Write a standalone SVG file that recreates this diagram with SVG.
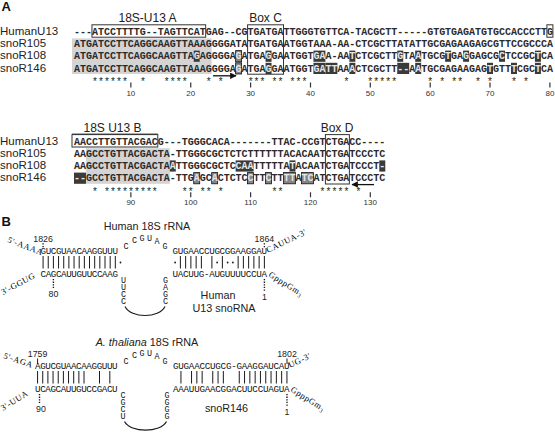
<svg xmlns="http://www.w3.org/2000/svg" width="555" height="433" viewBox="0 0 555 433">
<style>
.pl{font-family:"Liberation Sans",Arial,sans-serif;font-weight:bold;font-size:13px;fill:#111}
.lab{font-family:"Liberation Sans",Arial,sans-serif;font-size:11.5px;fill:#222}
.hd{font-family:"Liberation Sans",Arial,sans-serif;font-size:12px;fill:#222;text-anchor:middle}
.seq{font-family:"Liberation Mono","Courier New",monospace;font-size:10px;font-weight:bold;fill:#2a2a2a}
.w{fill:#e6e6e6}
.star{font-family:"Liberation Sans",Arial,sans-serif;font-size:10px;fill:#222;text-anchor:middle}
.num{font-family:"Liberation Sans",Arial,sans-serif;font-size:8px;fill:#333;text-anchor:middle}
.box{fill:none;stroke:#333;stroke-width:1}
.shade{fill:#d4d4d4}
.dk{fill:#3a3a3a}
.ol{fill:#858585;stroke:#111;stroke-width:0.8}
.tick{stroke:#333;stroke-width:1.2;fill:none}
.rna{font-family:"Liberation Mono","Courier New",monospace;font-size:9.2px;fill:#111}
.rc{font-family:"Liberation Mono","Courier New",monospace;font-size:8.4px;fill:#111;text-anchor:middle}
.rot{font-family:"Liberation Serif","Times New Roman",serif;font-size:8.5px;fill:#000;letter-spacing:0.6px}
.lb{font-family:"Liberation Sans",Arial,sans-serif;font-size:10.8px;fill:#222;text-anchor:middle}
.nb{font-family:"Liberation Sans",Arial,sans-serif;font-size:8.8px;fill:#222;text-anchor:middle}
.bar{stroke:#1a1a1a;stroke-width:1;fill:none}
.dot{stroke:#1a1a1a;stroke-width:1.4;stroke-dasharray:1.3 1.3;fill:none}
.sl{stroke:#1a1a1a;stroke-width:1;fill:none}
.arc{stroke:#1a1a1a;stroke-width:1.2;fill:none}
.arr{stroke:#111;stroke-width:1.3;fill:none}
</style>
<defs>
<marker id="ah" viewBox="0 0 10 10" refX="9" refY="5" markerWidth="8" markerHeight="6.5" orient="auto" markerUnits="userSpaceOnUse"><path d="M0,0L10,5L0,10z" fill="#111"/></marker>
</defs>

<g id="panelA">
<text class="pl" x="1.5" y="11">A</text>

<g id="shading">
<rect class="shade" x="72" y="38.4" width="139.7" height="35.6"/>
<rect class="shade" x="85.97" y="148.2" width="83.8" height="35.6"/>
</g>

<g id="highlights">
<rect class="dk" x="193.72" y="50.6" width="5.99" height="11.2"/>
<rect class="ol" x="235.62" y="50.6" width="5.99" height="11.2"/>
<rect class="dk" x="265.55" y="50.6" width="5.99" height="11.2"/>
<rect class="dk" x="313.44" y="50.6" width="11.97" height="11.2"/>
<rect class="dk" x="349.36" y="50.6" width="5.99" height="11.2"/>
<rect class="dk" x="397.24" y="50.6" width="5.99" height="11.2"/>
<rect class="dk" x="415.20" y="50.6" width="5.99" height="11.2"/>
<rect class="dk" x="445.13" y="50.6" width="5.99" height="11.2"/>
<rect class="dk" x="463.09" y="50.6" width="5.99" height="11.2"/>
<rect class="dk" x="499.01" y="50.6" width="5.99" height="11.2"/>
<rect class="dk" x="534.92" y="50.6" width="5.99" height="11.2"/>

<rect class="ol" x="235.62" y="62.8" width="5.99" height="11.2"/>
<rect class="dk" x="265.55" y="62.8" width="5.99" height="11.2"/>
<rect class="dk" x="313.44" y="62.8" width="11.97" height="11.2"/>
<rect class="dk" x="325.41" y="62.8" width="11.97" height="11.2"/>
<rect class="dk" x="349.36" y="62.8" width="5.99" height="11.2"/>
<rect class="dk" x="397.24" y="62.8" width="11.97" height="11.2"/>
<rect class="dk" x="415.20" y="62.8" width="5.99" height="11.2"/>
<rect class="dk" x="487.03" y="62.8" width="5.99" height="11.2"/>
<rect class="dk" x="510.98" y="62.8" width="5.99" height="11.2"/>
<rect class="dk" x="534.92" y="62.8" width="5.99" height="11.2"/>

<rect class="dk" x="169.78" y="160.4" width="5.99" height="11.2"/>
<rect class="dk" x="235.62" y="160.4" width="17.96" height="11.2"/>
<rect class="dk" x="289.50" y="160.4" width="5.99" height="11.2"/>
<rect class="dk" x="379.29" y="160.4" width="5.99" height="11.2"/>

<rect class="dk" x="74" y="172.6" width="11.97" height="11.2"/>
<rect class="ol" x="193.72" y="172.6" width="5.99" height="11.2"/>
<rect class="ol" x="211.68" y="172.6" width="5.99" height="11.2"/>
<rect class="ol" x="247.59" y="172.6" width="5.99" height="11.2"/>
<rect class="ol" x="265.55" y="172.6" width="5.99" height="11.2"/>
<rect class="ol" x="283.51" y="172.6" width="11.97" height="11.2"/>
<rect class="ol" x="301.47" y="172.6" width="11.97" height="11.2"/>
</g>

<g id="rowLabels">
<text class="lab" x="0" y="35">HumanU13</text>
<text class="lab" x="0" y="47.2">snoR105</text>
<text class="lab" x="0" y="59.4">snoR108</text>
<text class="lab" x="0" y="71.6">snoR146</text>
<text class="lab" x="0" y="144.8">HumanU13</text>
<text class="lab" x="0" y="157">snoR105</text>
<text class="lab" x="0" y="169.2">snoR108</text>
<text class="lab" x="0" y="181.4">snoR146</text>
</g>

<g id="sequences">
<text class="seq" x="74" y="35" textLength="478.9" lengthAdjust="spacing">---ATCCTTTTG--TAGTTCATGAG--CGTGATGATTGGGTGTTCA-TACGCTT-----GTGTGAGATGTGCCACCCTTG</text>
<text class="seq" x="74" y="47.2" textLength="478.9" lengthAdjust="spacing">ATGATCCTTCAGGCAAGTTAAAGGGGATATGATGAATGGTAAA-AA-CTCGCTTATATTGCGAGAAGAGCGTTCCGCCCA</text>
<text class="seq" x="74" y="59.4" textLength="478.9" lengthAdjust="spacing">ATGATCCTTCAGGCAAGTTA<tspan class="w">G</tspan>AGGGGA<tspan class="w">G</tspan>ATGA<tspan class="w">G</tspan>GAATGGT<tspan class="w">GA</tspan>A-AA<tspan class="w">T</tspan>CTCGCTT<tspan class="w">G</tspan>TA<tspan class="w">A</tspan>TGCG<tspan class="w">T</tspan>GA<tspan class="w">G</tspan>GAGCG<tspan class="w">C</tspan>TCCGC<tspan class="w">T</tspan>CA</text>
<text class="seq" x="74" y="71.6" textLength="478.9" lengthAdjust="spacing">ATGATCCTTCAGGCAAGTTAAAGGGGA<tspan class="w">G</tspan>ATGA<tspan class="w">G</tspan>GAATGGT<tspan class="w">GATT</tspan>AA<tspan class="w">A</tspan>CTCGCTT<tspan class="w">--</tspan>A<tspan class="w">A</tspan>TGCGAGAAGAG<tspan class="w">T</tspan>GTT<tspan class="w">T</tspan>CGC<tspan class="w">T</tspan>CA</text>

<text class="seq" x="74" y="144.8" textLength="311.3" lengthAdjust="spacing">AACCTTGTTACGACG---TGGGCACA-------TTAC-CCGTCTGACC----</text>
<text class="seq" x="74" y="157" textLength="311.3" lengthAdjust="spacing">AAGCCTGTTACGACTA-TTGGGCGCTCTCTTTTTTACACAATCTGATCCCTC</text>
<text class="seq" x="74" y="169.2" textLength="311.3" lengthAdjust="spacing">AAGCCTGTTACGACTA<tspan class="w">A</tspan>TTGGGCGCTC<tspan class="w">CAA</tspan>TTTTTA<tspan class="w">T</tspan>ACAATCTGATCCCT<tspan class="w">-</tspan></text>
<text class="seq" x="74" y="181.4" textLength="311.3" lengthAdjust="spacing"><tspan class="w">--</tspan>GCCTGTTACGACTA-TTG<tspan class="w">A</tspan>GC<tspan class="w">A</tspan>CTCTC<tspan class="w">C</tspan>TT<tspan class="w">C</tspan>TT<tspan class="w">TT</tspan>A<tspan class="w">TC</tspan>ATCTGATCCCTC</text>
</g>

<g id="boxes">
<rect class="box" x="91.96" y="24.8" width="113.73" height="12.4"/>
<rect class="box" x="247.59" y="24.8" width="35.92" height="49.4"/>
<rect class="box" x="546.9" y="24.8" width="6" height="12.4"/>
<rect class="box" x="72" y="134.6" width="85.8" height="12.4"/>
<line class="box" x1="72" y1="134.1" x2="157.8" y2="134.1"/>
<rect class="box" x="325.41" y="134.6" width="23.95" height="49.4"/>
</g>

<g id="headers">
<text class="hd" x="147.5" y="21.5">18S-U13 A</text>
<text class="hd" x="265.5" y="21.5">Box C</text>
<text class="hd" x="112.5" y="131.5">18S U13 B</text>
<text class="hd" x="337" y="131.5">Box D</text>
</g>

<g id="conservation">
<text class="star" y="85" x="94.95 100.94 106.92 112.91 118.90 124.88 142.84 166.78 172.77 178.76 184.74 208.69 220.66 250.59 256.57 262.56 274.53 280.52 292.49 298.48 304.46 346.36 370.31 376.29 382.28 388.27 394.25 430.17 442.14 454.11 460.10 478.05 490.03 513.97 525.94">***********************************</text>
<text class="star" y="194.8" x="94.95 106.92 112.91 118.90 124.88 130.87 136.85 142.84 148.83 154.81 184.74 190.73 202.70 208.69 220.66 274.53 280.52 322.42 328.41 334.39 340.38 346.36 358.34">***********************</text>
</g>

<g id="scale">
<path class="tick" d="M130.87 82.5V87.5M190.73 82.5V87.5M250.6 82.5V87.5M310.5 82.5V87.5M370.3 82.5V87.5M430.2 82.5V87.5M490 82.5V87.5M549.9 82.5V87.5"/>
<text class="num" x="130.87" y="95.5">10</text>
<text class="num" x="190.73" y="95.5">20</text>
<text class="num" x="250.6" y="95.5">30</text>
<text class="num" x="310.5" y="95.5">40</text>
<text class="num" x="370.3" y="95.5">50</text>
<text class="num" x="430.2" y="95.5">60</text>
<text class="num" x="490" y="95.5">70</text>
<text class="num" x="549.9" y="95.5">80</text>
<path class="tick" d="M130.87 192.3V197.3M190.73 192.3V197.3M250.6 192.3V197.3M310.5 192.3V197.3M370.3 192.3V197.3"/>
<text class="num" x="130.87" y="205">90</text>
<text class="num" x="190.73" y="205">100</text>
<text class="num" x="250.6" y="205">110</text>
<text class="num" x="310.5" y="205">120</text>
<text class="num" x="370.3" y="205">130</text>
</g>

<g id="connectors">
<line class="arr" x1="213" y1="75.8" x2="236" y2="75.8" marker-end="url(#ah)"/>
<line class="arr" x1="374" y1="184.6" x2="352" y2="184.6" marker-end="url(#ah)"/>
</g>
</g>

<g id="panelB">
<text class="pl" x="1.5" y="226">B</text>

<g id="human">
<text class="lb" x="147" y="230">Human 18S rRNA</text>
<text class="nb" x="43.1" y="242">1826</text>
<line class="dot" x1="43.1" y1="243.3" x2="43.1" y2="248"/>
<text class="rot" transform="translate(7,242) rotate(21)">5'-AAAA</text>
<text class="rna" x="40.5" y="253.5" textLength="77.4" lengthAdjust="spacing">GUCGUAACAAGGUUU</text>
<text class="rna" x="40.5" y="276.5" textLength="77.4" lengthAdjust="spacing">CAGCAUUGUUCCAAG</text>
<text class="rot" transform="translate(3,295) rotate(-28)">3'-GGUG</text>
<path class="bar" d="M43.08 256V268.5M48.24 256V268.5M53.4 256V268.5M58.56 256V268.5M63.72 256V268.5M68.88 256V268.5M74.04 256V268.5M79.2 256V268.5M84.36 256V268.5M89.52 256V268.5M94.68 256V268.5M99.84 256V268.5M105 256V268.5M110.16 256V268.5M115.32 256V268.5"/>
<circle cx="120.5" cy="262.5" r="0.9" fill="#1a1a1a"/>
<line class="dot" x1="53.4" y1="279" x2="53.4" y2="288.5"/>
<text class="nb" x="53.4" y="297">80</text>
<text class="rc" x="126 134.5 142 149.5 157 165" y="248.5 243 240.5 241 243.5 249">CCGUAG</text>
<text class="rc" x="123.5 123.5 123.5 123.5" y="283 290 297 304">UUCC</text>
<text class="rc" x="165.5 165.5 165.5 165.5" y="283 290 297 304">GAGC</text>
<path class="arc" d="M125 306.5C131 318.5 159 318.5 165 306.5"/>
<text class="rna" x="172.5" y="253.5" textLength="94.5" lengthAdjust="spacing">GUGAACCUGCGGAAGGAU</text>
<text class="rna" x="172.5" y="276.5" textLength="94.5" lengthAdjust="spacing">UACUUG-AUGUUUUCCUA</text>
<path class="bar" d="M180.38 256V268.5M185.63 256V268.5M190.88 256V268.5M196.13 256V268.5M201.38 256V268.5M211.88 256V268.5M222.38 256V268.5M238.13 256V268.5M243.38 256V268.5M248.63 256V268.5M253.88 256V268.5M259.13 256V268.5M264.38 256V268.5"/>
<g fill="#1a1a1a"><circle cx="175.13" cy="262.5" r="0.9"/><circle cx="217.13" cy="262.5" r="0.9"/><circle cx="227.63" cy="262.5" r="0.9"/><circle cx="232.88" cy="262.5" r="0.9"/></g>
<text class="nb" x="264.4" y="242">1864</text>
<line class="dot" x1="264.4" y1="243.3" x2="264.4" y2="248"/>
<text class="rot" transform="translate(268,253) rotate(-26)">CAUUA-3'</text>
<text class="rot" transform="translate(268,276) rotate(32)">GpppGm<tspan font-size="6" dy="2">3</tspan></text>
<line class="dot" x1="264.4" y1="279" x2="264.4" y2="291"/>
<text class="nb" x="264.4" y="300">1</text>
<text class="lb" x="218" y="299">Human</text>
<text class="lb" x="224" y="312">U13 snoRNA</text>
</g>

<g id="athaliana">
<text class="lb" x="147" y="346"><tspan font-style="italic">A. thaliana</tspan> 18S rRNA</text>
<text class="nb" x="37.6" y="357">1759</text>
<line class="sl" x1="37.6" y1="358.5" x2="37.6" y2="364"/>
<text class="rot" transform="translate(3,358) rotate(19)">5'-AGA</text>
<text class="rna" x="35" y="368.5" textLength="82.56" lengthAdjust="spacing">AGUCGUAACAAGGUUU</text>
<text class="rna" x="35" y="391.5" textLength="82.56" lengthAdjust="spacing">UCAGCAUUGUCCGACU</text>
<text class="rot" transform="translate(3,411) rotate(-32)">3'-UUA</text>
<path class="bar" d="M37.58 371V383.5M42.74 371V383.5M47.9 371V383.5M53.06 371V383.5M58.22 371V383.5M63.38 371V383.5M68.54 371V383.5M73.7 371V383.5M78.86 371V383.5M84.02 371V383.5M99.5 371V383.5M109.82 371V383.5"/>
<line class="dot" x1="39.5" y1="394" x2="39.5" y2="403.5"/>
<text class="nb" x="41" y="412">90</text>
<text class="rc" x="126 134.5 142 149.5 157 165" y="363.5 358 355.5 356 358.5 364">CCGUAG</text>
<text class="rc" x="123 123 123 123" y="398 405 412 419">CGCU</text>
<text class="rc" x="167 167 167 167" y="398 405 412 419">GGGG</text>
<path class="arc" d="M124.5 421.5C130.5 433 160.5 433 166.5 421.5"/>
<text class="rna" x="173" y="368.5" textLength="116.6" lengthAdjust="spacing">GUGAACCUGCG-GAAGGAUCAU</text>
<text class="rna" x="173" y="391.5" textLength="116.6" lengthAdjust="spacing">AAAUUGAACGGACUUCCUAGUA</text>
<path class="bar" d="M180.95 371V383.5M191.55 371V383.5M196.85 371V383.5M202.15 371V383.5M212.75 371V383.5M218.05 371V383.5M223.35 371V383.5M239.25 371V383.5M244.55 371V383.5M249.85 371V383.5M255.15 371V383.5M260.45 371V383.5M265.75 371V383.5M271.05 371V383.5M276.35 371V383.5M281.65 371V383.5M286.95 371V383.5"/>
<text class="nb" x="287" y="357">1802</text>
<line class="sl" x1="287" y1="358.5" x2="287" y2="364"/>
<text class="rot" transform="translate(290,368) rotate(-25)">UG-3'</text>
<text class="rot" transform="translate(290,391) rotate(32)">GpppGm<tspan font-size="6" dy="2">3</tspan></text>
<line class="dot" x1="287" y1="394" x2="287" y2="406.5"/>
<text class="nb" x="287" y="415">1</text>
<text class="lb" x="226.5" y="412">snoR146</text>
</g>
</g>
</svg>
